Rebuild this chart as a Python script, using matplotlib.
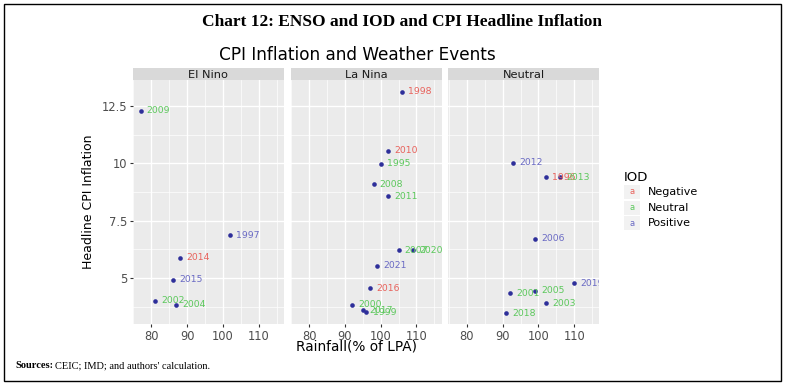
import matplotlib
matplotlib.use("Agg")
import matplotlib.pyplot as plt
from matplotlib.patches import Rectangle

# ---------------- data ----------------
panels = ["El Nino", "La Nina", "Neutral"]

elnino_years = ["2009", "1997", "2014", "2015", "2002", "2004"]
elnino_rain = [77, 102, 88, 86, 81, 87]
elnino_cpi = [12.3, 6.85, 5.88, 4.91, 4.0, 3.83]
elnino_iod = ["Neutral", "Positive", "Negative", "Positive", "Neutral", "Neutral"]

lanina_years = ["1998", "2010", "1995", "2008", "2011", "2007", "2020", "2021", "2016", "2000", "2017", "1999"]
lanina_rain = [106, 102, 100, 98, 102, 105, 109, 99, 97, 92, 95, 96]
lanina_cpi = [13.12, 10.55, 9.97, 9.08, 8.57, 6.2, 6.2, 5.52, 4.55, 3.84, 3.6, 3.5]
lanina_iod = ["Negative", "Negative", "Neutral", "Neutral", "Neutral", "Neutral", "Neutral",
              "Positive", "Negative", "Neutral", "Neutral", "Neutral"]

neutral_years = ["2012", "1996", "2013", "2006", "2019", "2005", "2001", "2003", "2018"]
neutral_rain = [93, 102, 106, 99, 110, 99, 92, 102, 91]
neutral_cpi = [10.03, 9.39, 9.4, 6.7, 4.77, 4.43, 4.33, 3.89, 3.45]
neutral_iod = ["Positive", "Negative", "Neutral", "Positive", "Positive", "Neutral", "Neutral", "Neutral", "Neutral"]

iod_levels = ["Negative", "Neutral", "Positive"]
x_ticks = [80, 90, 100, 110]
y_ticks = [5, 7.5, 10, 12.5]
y_tick_labels = ["5", "7.5", "10", "12.5"]

# ---------------- style ----------------
W, H = 785, 385
iod_colors = {"Negative": "#E8625C", "Neutral": "#5CC85C", "Positive": "#6A6AC4"}
point_color = "#2E2F9A"
panel_bg = "#EBEBEB"
strip_bg = "#D9D9D9"
tick_col = "#4D4D4D"

fig = plt.figure(figsize=(W / 100, H / 100), dpi=100)
fig.patch.set_facecolor("white")

# outer frame
fig.add_artist(Rectangle((4 / W, 4 / H), 777 / W, 377 / H, transform=fig.transFigure,
                         fill=False, edgecolor="black", linewidth=1.0))

fig.text(402 / W, 1 - 22 / H, "Chart 12: ENSO and IOD and CPI Headline Inflation",
         ha="center", va="center", fontsize=12.5, fontweight="bold", family="Liberation Serif")
fig.text(357 / W, 1 - 55 / H, "CPI Inflation and Weather Events",
         ha="center", va="center", fontsize=12.2, family="DejaVu Sans")

data = [
    (elnino_years, elnino_rain, elnino_cpi, elnino_iod),
    (lanina_years, lanina_rain, lanina_cpi, lanina_iod),
    (neutral_years, neutral_rain, neutral_cpi, neutral_iod),
]

lefts = [132.7, 290.5, 448.3]
pw = 151.0
ptop, pbot = 80.0, 324.0
strip_top = 68.3

for i, (name, (yrs, rain, cpi, iod)) in enumerate(zip(panels, data)):
    ax = fig.add_axes([lefts[i] / W, 1 - pbot / H, pw / W, (pbot - ptop) / H])
    ax.set_facecolor(panel_bg)
    ax.set_xlim(74.8, 117.0)
    ax.set_ylim(2.99, 13.63)
    for s in ax.spines.values():
        s.set_visible(False)
    ax.set_xticks(x_ticks)
    ax.set_xticks([75, 85, 95, 105, 115], minor=True)
    ax.set_yticks(y_ticks)
    ax.set_yticks([3.75, 6.25, 8.75, 11.25], minor=True)
    ax.grid(True, which="major", color="white", linewidth=1.0)
    ax.grid(True, which="minor", color="white", linewidth=0.5)
    ax.set_axisbelow(True)
    ax.tick_params(axis="both", which="major", length=2.5, width=0.8, color="#333333",
                   labelsize=8.3, labelcolor=tick_col, pad=1.5)
    ax.tick_params(axis="both", which="minor", length=0)
    ax.set_xticklabels([str(t) for t in x_ticks])
    if i == 0:
        ax.set_yticklabels(y_tick_labels)
    else:
        ax.tick_params(axis="y", which="major", length=0, labelleft=False)

    ax.scatter(rain, cpi, s=11, color=point_color, zorder=3, linewidths=0)
    for y, xr, c, lv in zip(yrs, rain, cpi, iod):
        t = ax.annotate(y, (xr, c), xytext=(4.5, 0), textcoords="offset points",
                        ha="left", va="center", fontsize=6.7, color=iod_colors[lv], zorder=4)
        t.set_clip_path(ax.patch)

    # strip
    sax = fig.add_axes([lefts[i] / W, 1 - ptop / H, pw / W, (ptop - strip_top) / H])
    sax.set_facecolor(strip_bg)
    sax.set_xticks([])
    sax.set_yticks([])
    for s in sax.spines.values():
        s.set_visible(False)
    sax.text(0.5, 0.45, name, ha="center", va="center", fontsize=8.2, color="#1A1A1A",
             transform=sax.transAxes)

fig.text(357 / W, 1 - 346.5 / H, "Rainfall(% of LPA)", ha="center", va="center",
         fontsize=9.8, color="black")
fig.text(88 / W, 1 - 202 / H, "Headline CPI Inflation", ha="center", va="center",
         rotation=90, fontsize=9, family="DejaVu Sans", color="black")

# legend
fig.text(624 / W, 1 - 177 / H, "IOD", ha="left", va="center", fontsize=9.5)
for k, lv in enumerate(iod_levels):
    yc = 192 + 15.7 * k
    fig.add_artist(Rectangle((624 / W, 1 - (yc + 7) / H), 16 / W, 14 / H,
                             transform=fig.transFigure, facecolor="#F2F2F2", edgecolor="none"))
    fig.text(632 / W, 1 - yc / H, "a", ha="center", va="center", fontsize=6,
             color=iod_colors[lv])
    fig.text(648 / W, 1 - yc / H, lv, ha="left", va="center", fontsize=8)

# sources
fig.text(15 / W, 1 - 366 / H, "Sources:", ha="left", va="center", fontsize=7.5,
         fontweight="bold", family="Liberation Serif")
fig.text(55 / W, 1 - 366 / H, "CEIC; IMD; and authors' calculation.", ha="left", va="center",
         fontsize=7.5, family="Liberation Serif")

fig.savefig("out.png", dpi=100)
